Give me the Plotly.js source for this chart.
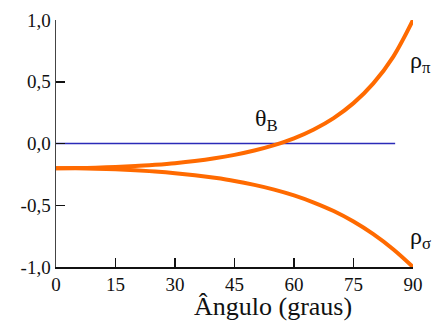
<!DOCTYPE html>
<html>
<head>
<meta charset="utf-8">
<script src="https://cdn.plot.ly/plotly-3.0.1.min.js"></script>
<style>html,body{margin:0;padding:0;background:#fff;}#chart{width:433px;height:323px;}</style>
</head>
<body>
<div id="chart"></div>
<script>
const angles = [0,5,10,15,20,25,30,35,40,45,50,55,60,65,70,75,80,85,90];
const rhoPi = [-0.200,-0.199,-0.196,-0.191,-0.183,-0.172,-0.159,-0.142,-0.120,-0.092,-0.057,-0.013,0.042,0.114,0.206,0.327,0.487,0.702,1.000];
const rhoSigma = [-0.200,-0.201,-0.204,-0.209,-0.217,-0.227,-0.240,-0.257,-0.278,-0.303,-0.335,-0.373,-0.420,-0.478,-0.547,-0.632,-0.734,-0.856,-1.000];
const zeroLineX = [0, 85.5];
const zeroLineY = [0, 0];
const xTicks = [0,15,30,45,60,75,90];
const xTickText = ["0","15","30","45","60","75","90"];
const yTicks = [-1,-0.5,0,0.5,1];
const yTickText = ["-1,0","-0,5","0,0","0,5","1,0"];

const serif = "Liberation Serif";
const traces = [
  {x: zeroLineX, y: zeroLineY, mode:'lines', line:{color:'#2b2bb8', width:1.3}, hoverinfo:'skip'},
  {x: angles, y: rhoPi, mode:'lines', line:{color:'#ff6a00', width:4, shape:'spline'}},
  {x: angles, y: rhoSigma, mode:'lines', line:{color:'#ff6a00', width:4, shape:'spline'}}
];
const layout = {
  width:433, height:323,
  margin:{l:56, r:20, t:20, b:56},
  showlegend:false,
  paper_bgcolor:'#fff', plot_bgcolor:'#fff',
  font:{family:serif, size:19, color:'#111'},
  xaxis:{range:[0,90], tickvals:xTicks, ticktext:xTickText, ticks:'inside', ticklen:9, tickwidth:1.5, tickcolor:'#111',
         showline:true, linecolor:'#111', linewidth:1.5, showgrid:false, zeroline:false, fixedrange:true,
         tickfont:{family:serif, size:19, color:'#111'}},
  yaxis:{range:[-1,1], tickvals:yTicks, ticktext:yTickText, ticks:'inside', ticklen:9, tickwidth:1.5, tickcolor:'#111',
         showline:true, linecolor:'#444', linewidth:1.5, showgrid:false, zeroline:false, fixedrange:true,
         tickfont:{family:serif, size:19, color:'#111'}},
  annotations:[
    {xref:'paper', yref:'paper', x:(273-56)/356.7, y:(266.7-306)/246.7, text:'Ângulo (graus)', showarrow:false,
     font:{family:serif, size:26, color:'#111'}, xanchor:'center', yanchor:'middle'},
    {xref:'paper', yref:'paper', x:(420-56)/356.7, y:(266.7-62)/246.7, text:'ρ<sub>π</sub>', showarrow:false,
     font:{family:serif, size:24, color:'#111'}, xanchor:'center', yanchor:'middle'},
    {xref:'paper', yref:'paper', x:(420-56)/356.7, y:(266.7-238)/246.7, text:'ρ<sub>σ</sub>', showarrow:false,
     font:{family:serif, size:24, color:'#111'}, xanchor:'center', yanchor:'middle'},
    {xref:'paper', yref:'paper', x:(266-56)/356.7, y:(266.7-120)/246.7, text:'θ<sub>B</sub>', showarrow:false,
     font:{family:serif, size:24, color:'#111'}, xanchor:'center', yanchor:'middle'}
  ]
};
Plotly.newPlot('chart', traces, layout, {displayModeBar:false, staticPlot:true});
</script>
</body>
</html>
